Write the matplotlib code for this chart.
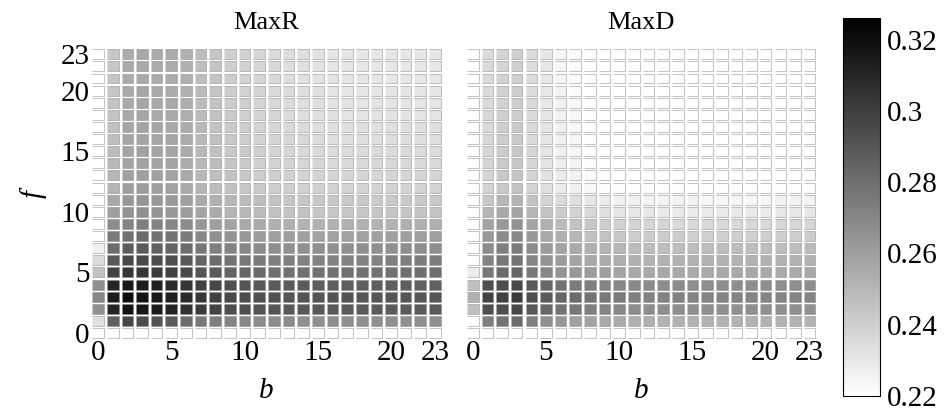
import numpy as np
import matplotlib
matplotlib.use('Agg')

import matplotlib.pyplot as plt
from matplotlib.colors import Normalize
from matplotlib.cm import ScalarMappable

b_vals = np.arange(24)
f_vals = np.arange(24)
tick_vals = [0, 5, 10, 15, 20, 23]
cbar_ticks = [0.22, 0.24, 0.26, 0.28, 0.30, 0.32]
cbar_labels = ['0.22', '0.24', '0.26', '0.28', '0.3', '0.32']
titles = ['MaxR', 'MaxD']

# rows are f = 0..23, columns are b = 0..23
maxr = [
    [.218]*24,
    [.233, .286, .296, .294, .291, .288, .281, .276, .273, .271, .270, .268, .268, .268, .266, .266, .267, .266, .266, .266, .266, .266, .266, .266],
    [.266, .311, .318, .316, .314, .311, .306, .301, .298, .294, .293, .291, .290, .289, .289, .289, .289, .288, .288, .288, .288, .288, .288, .288],
    [.270, .314, .321, .318, .316, .313, .308, .303, .299, .296, .294, .293, .292, .291, .291, .291, .291, .291, .290, .290, .290, .290, .290, .290],
    [.266, .311, .316, .314, .313, .309, .304, .299, .296, .293, .291, .289, .288, .288, .288, .287, .287, .287, .287, .287, .287, .287, .286, .286],
    [.245, .298, .304, .303, .301, .299, .296, .291, .288, .284, .283, .281, .280, .279, .279, .279, .279, .279, .279, .279, .279, .280, .280, .280],
    [.235, .289, .296, .296, .294, .293, .289, .284, .281, .278, .276, .275, .273, .273, .272, .272, .272, .272, .272, .272, .273, .273, .274, .274],
    [.226, .281, .288, .288, .286, .284, .281, .276, .273, .271, .270, .268, .267, .266, .266, .266, .266, .266, .266, .266, .266, .267, .267, .267],
    [.218, .275, .279, .281, .279, .278, .275, .270, .266, .265, .263, .261, .260, .260, .259, .259, .259, .259, .259, .259, .259, .260, .260, .260],
    [.218, .268, .271, .273, .271, .270, .268, .263, .260, .258, .256, .255, .253, .253, .252, .252, .252, .252, .252, .252, .252, .253, .253, .253],
    [.218, .260, .265, .266, .265, .263, .261, .258, .255, .251, .250, .248, .246, .245, .245, .244, .244, .244, .244, .244, .244, .244, .245, .245],
    [.218, .256, .263, .264, .263, .262, .260, .256, .253, .250, .248, .247, .245, .244, .243, .243, .243, .242, .242, .242, .242, .242, .242, .242],
    [.218, .251, .260, .261, .260, .259, .256, .251, .248, .246, .244, .242, .241, .240, .239, .239, .239, .238, .238, .238, .238, .238, .238, .238],
    [.218, .250, .259, .260, .259, .258, .256, .250, .247, .245, .243, .241, .240, .239, .238, .238, .237, .237, .237, .237, .237, .237, .237, .237],
    [.218, .249, .258, .259, .258, .258, .255, .250, .247, .244, .242, .240, .239, .238, .237, .237, .236, .236, .236, .236, .236, .236, .236, .236],
    [.218, .248, .258, .259, .258, .257, .255, .249, .246, .243, .242, .240, .238, .237, .236, .236, .235, .235, .235, .235, .235, .235, .235, .235],
    [.218, .247, .257, .258, .257, .257, .255, .249, .246, .243, .241, .239, .238, .237, .236, .235, .234, .234, .234, .234, .234, .234, .234, .234],
    [.218, .246, .257, .258, .257, .256, .254, .249, .245, .242, .241, .239, .237, .236, .235, .234, .233, .233, .233, .233, .233, .233, .233, .233],
    [.218, .245, .256, .257, .256, .256, .254, .248, .245, .242, .240, .238, .237, .235, .234, .233, .233, .232, .232, .232, .232, .232, .232, .232],
    [.218, .245, .256, .257, .256, .256, .254, .248, .245, .241, .240, .238, .236, .235, .234, .233, .232, .232, .231, .231, .231, .231, .231, .231],
    [.218, .244, .255, .257, .256, .255, .253, .248, .244, .241, .239, .238, .236, .235, .234, .233, .232, .231, .231, .231, .231, .231, .231, .231],
    [.218, .244, .255, .256, .255, .255, .253, .247, .244, .241, .239, .237, .236, .234, .233, .232, .232, .231, .231, .230, .230, .230, .230, .230],
    [.218, .243, .255, .256, .255, .255, .253, .247, .244, .240, .239, .237, .236, .234, .233, .232, .231, .231, .230, .230, .230, .230, .230, .230],
    [.218, .243, .254, .256, .255, .255, .253, .247, .244, .240, .239, .237, .235, .234, .233, .232, .231, .231, .230, .230, .230, .230, .230, .230],
]

maxd = [
    [.218]*24,
    [.218, .273, .278, .281, .273, .266, .263, .260, .258, .256, .255, .253, .253, .252, .252, .252, .252, .252, .252, .252, .252, .252, .252, .252],
    [.246, .293, .294, .296, .289, .283, .278, .276, .273, .271, .270, .268, .267, .267, .267, .266, .266, .266, .266, .266, .266, .266, .266, .266],
    [.253, .298, .299, .301, .294, .288, .283, .281, .278, .276, .275, .273, .272, .272, .272, .271, .271, .271, .271, .271, .271, .271, .271, .271],
    [.246, .293, .294, .296, .289, .283, .278, .275, .273, .271, .270, .269, .268, .268, .268, .267, .267, .267, .267, .267, .267, .267, .267, .267],
    [.228, .276, .281, .283, .276, .270, .265, .263, .261, .260, .258, .256, .256, .256, .256, .256, .256, .256, .256, .256, .256, .256, .256, .256],
    [.218, .271, .276, .278, .271, .265, .261, .258, .256, .255, .254, .253, .252, .252, .252, .252, .252, .252, .252, .252, .252, .252, .252, .252],
    [.218, .268, .273, .275, .268, .261, .258, .255, .253, .251, .250, .248, .247, .247, .247, .247, .247, .247, .247, .247, .247, .247, .247, .248],
    [.218, .263, .268, .270, .263, .256, .253, .250, .246, .245, .243, .241, .241, .241, .241, .240, .240, .240, .240, .240, .240, .241, .241, .241],
    [.218, .258, .263, .265, .258, .253, .248, .245, .243, .240, .239, .238, .237, .237, .236, .236, .236, .236, .236, .236, .236, .237, .237, .237],
    [.218, .251, .256, .258, .251, .245, .241, .238, .236, .233, .231, .230, .230, .229, .229, .229, .229, .229, .229, .229, .229, .230, .230, .230],
    [.218, .243, .250, .251, .245, .238, .235, .233, .230, .228, .226, .226, .225, .225, .225, .225, .224, .224, .224, .224, .224, .225, .225, .225],
    [.218, .238, .243, .245, .238, .233, .228, .226, .223, .222, .222, .221, .221, .221, .221, .221, .221, .221, .221, .221, .221, .221, .221, .221],
    [.218, .238, .243, .244, .238, .232, .228, .225, .222, .221, .220, .220, .220, .220, .220, .220, .220, .220, .220, .220, .220, .220, .220, .220],
    [.218, .237, .242, .244, .237, .232, .227, .225, .222, .220, .220, .219, .219, .219, .219, .219, .219, .219, .219, .219, .219, .219, .219, .219],
    [.218, .237, .241, .243, .237, .231, .226, .224, .221, .220, .219, .219, .219, .219, .219, .219, .219, .219, .219, .219, .219, .219, .219, .219],
    [.218, .236, .241, .242, .236, .231, .226, .224, .221, .220, .219, .219, .219, .219, .219, .219, .219, .219, .219, .219, .219, .219, .219, .219],
    [.218, .236, .240, .242, .236, .231, .226, .223, .221, .219, .219, .219, .219, .219, .219, .219, .219, .219, .219, .219, .219, .219, .219, .219],
    [.218, .236, .240, .241, .236, .231, .225, .223, .221, .219, .219, .219, .219, .219, .219, .219, .219, .219, .219, .219, .219, .219, .219, .219],
    [.218, .236, .239, .241, .236, .230, .225, .223, .220, .219, .219, .219, .219, .219, .219, .219, .219, .219, .219, .219, .219, .219, .219, .219],
    [.218, .235, .239, .241, .235, .230, .225, .222, .220, .219, .219, .219, .219, .219, .219, .219, .219, .219, .219, .219, .219, .219, .219, .219],
    [.218, .235, .239, .240, .235, .230, .224, .222, .220, .219, .219, .219, .219, .219, .219, .219, .219, .219, .219, .219, .219, .219, .219, .219],
    [.218, .235, .238, .240, .235, .230, .224, .222, .220, .219, .219, .219, .219, .219, .219, .219, .219, .219, .219, .219, .219, .219, .219, .219],
    [.218, .235, .238, .240, .235, .230, .224, .222, .220, .219, .219, .219, .219, .219, .219, .219, .219, .219, .219, .219, .219, .219, .219, .219],
]

plt.rcParams['font.family'] = ['Liberation Serif', 'DejaVu Serif']

fig = plt.figure(figsize=(9.45, 4.12), dpi=100)
norm = Normalize(vmin=0.22, vmax=0.326)
cmap = plt.cm.gray_r
cell = [(-1, -0.86), (1, -0.86), (1, 0.86), (-1, 0.86)]
B, F = np.meshgrid(b_vals, f_vals)

ax_l = fig.add_axes([0.096, 0.177, 0.372, 0.706])
ax_r = fig.add_axes([0.4925, 0.177, 0.372, 0.706])

for ax, data, title in zip([ax_l, ax_r], [maxr, maxd], titles):
    vals = np.array(data)
    ax.scatter(B.ravel(), F.ravel(), c=vals.ravel(), cmap=cmap, norm=norm,
               marker=cell, s=70, edgecolors=[(0.5, 0.5, 0.5, 0.45)], linewidths=0.75)
    ax.set_xlim(-0.5, 23.5)
    ax.set_ylim(-0.5, 23.5)
    for sp in ax.spines.values():
        sp.set_visible(False)
    ax.set_xticks(tick_vals)
    ax.tick_params(length=0, labelsize=21, pad=1)
    ax.set_title(title, fontsize=19, pad=14)
    ax.set_xlabel('b', fontsize=21, fontstyle='italic', labelpad=8)

ax_l.set_yticks(tick_vals)
ax_l.set_ylabel('f', fontsize=21, fontstyle='italic', labelpad=10)
ax_r.set_yticks([])

cax = fig.add_axes([0.892, 0.039, 0.039, 0.917])
cb = fig.colorbar(ScalarMappable(norm=norm, cmap=cmap), cax=cax)
cb.set_ticks(cbar_ticks, labels=cbar_labels)
cb.ax.tick_params(length=0, labelsize=21, pad=5)
cb.outline.set_linewidth(0.8)

fig.savefig('out.png', dpi=100)
